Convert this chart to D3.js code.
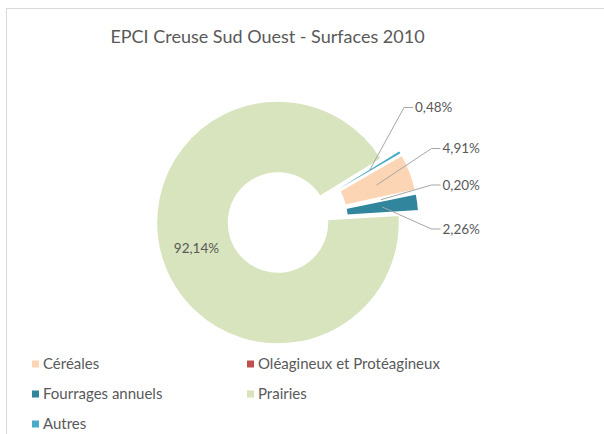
<!DOCTYPE html>
<html>
  <head>
    <meta charset="utf-8">
    <style>
      body { margin: 0; background: #fff; }
      text { font-family: Lato, "Open Sans", sans-serif; fill: #595959; }
    </style>
    <script src="https://d3js.org/d3.v7.min.js"></script>
  </head>
  <body>
    <svg></svg>
    <script>
    // data
    var categories = ["Céréales", "Oléagineux et Protéagineux", "Fourrages annuels", "Prairies", "Autres"];
    var values = [4.91, 0.20, 2.26, 92.14, 0.48];
    var labels = ["4,91%", "0,20%", "2,26%", "92,14%", "0,48%"];
    var colors = ["#FCD5B5", "#C0504D", "#31859C", "#D7E4BD", "#4BACC6"];

    var width = 604, height = 434;
    var cx = 287.5, cy = 219.5;
    var rOuter = 121.5, rInner = 49.5;
    var explode = 10;

    var svg = d3.select("svg")
        .attr("width", width)
        .attr("height", height);

    // chart area border
    svg.append("rect")
        .attr("x", 6.5).attr("y", 8.5)
        .attr("width", 700).attr("height", 500)
        .attr("fill", "#fff")
        .attr("stroke", "#D9D9D9");

    svg.append("text")
        .attr("x", 267.5)
        .attr("y", 43)
        .attr("text-anchor", "middle")
        .style("font-size", "18px")
        .text("EPCI Creuse Sud Ouest - Surfaces 2010");

    var pie = d3.pie()
        .sort(null)
        .value(function(d) { return d; })
        .startAngle(60 * Math.PI / 180)
        .endAngle(420 * Math.PI / 180);

    var arc = d3.arc()
        .innerRadius(rInner)
        .outerRadius(rOuter);

    var arcs = pie(values);

    function offset(d) {
        var a = (d.startAngle + d.endAngle) / 2;
        return [explode * Math.sin(a), -explode * Math.cos(a)];
    }

    var g = svg.append("g")
        .attr("transform", "translate(" + cx + "," + cy + ")");

    g.selectAll("path.slice")
        .data(arcs)
      .enter().append("path")
        .attr("class", "slice")
        .attr("transform", function(d) { var o = offset(d); return "translate(" + o[0] + "," + o[1] + ")"; })
        .attr("d", arc)
        .attr("fill", function(d, i) { return colors[i]; })
        .attr("stroke", "#fff")
        .attr("stroke-width", 1.5);

    // label placement (moved by hand in the original), relative to centre
    var labelPos = [[155, -71], [155, -34.5], [155, 9.5], null, [127.5, -112]];

    arcs.forEach(function(d, i) {
        var o = offset(d);
        var c = arc.centroid(d);
        var px = c[0] + o[0], py = c[1] + o[1];
        if (!labelPos[i]) {
            g.append("text")
                .attr("x", px).attr("y", py)
                .attr("text-anchor", "middle")
                .attr("dy", "0.35em")
                .style("font-size", "13.5px")
                .text(labels[i]);
            return;
        }
        var lx = labelPos[i][0], ly = labelPos[i][1];
        g.append("polyline")
            .attr("points", [[px, py], [lx - 11, ly], [lx - 2, ly]].map(function(p) { return p.join(","); }).join(" "))
            .attr("fill", "none")
            .attr("stroke", "#A6A6A6")
            .attr("stroke-width", 1);
        g.append("text")
            .attr("x", lx).attr("y", ly)
            .attr("dy", "0.35em")
            .style("font-size", "13.5px")
            .text(labels[i]);
    });

    // legend
    var legendPos = [[32, 364], [247, 364], [32, 394], [247, 394], [32, 424]];
    var legend = svg.selectAll("g.legend")
        .data(categories)
      .enter().append("g")
        .attr("class", "legend")
        .attr("transform", function(d, i) { return "translate(" + legendPos[i][0] + "," + legendPos[i][1] + ")"; });

    legend.append("rect")
        .attr("x", 0).attr("y", -3.5)
        .attr("width", 7).attr("height", 7)
        .attr("fill", function(d, i) { return colors[i]; });

    legend.append("text")
        .attr("x", 11)
        .attr("dy", "0.35em")
        .style("font-size", "15px")
        .text(function(d) { return d; });
    </script>
  </body>
</html>
